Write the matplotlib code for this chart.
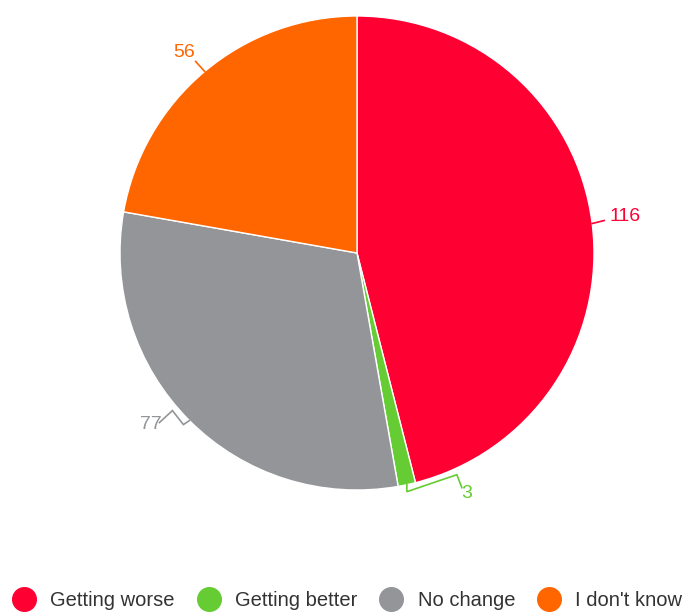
import numpy as np
import matplotlib.pyplot as plt
from matplotlib.lines import Line2D

# data
categories = ["Getting worse", "Getting better", "No change", "I don't know"]
counts = [116, 3, 77, 56]
colors = ["#FF0033", "#66CC33", "#939598", "#FF6600"]

plt.rcParams['font.family'] = ['Liberation Sans', 'DejaVu Sans']

W, H = 686, 612
fig = plt.figure(figsize=(W / 100, H / 100), dpi=100)
ax = fig.add_axes([0, 0, 1, 1])

cx, cy, r = 357, H - 253, 237
wedges, _ = ax.pie(counts, colors=colors, startangle=90, counterclock=False,
                   center=(cx, cy), radius=r, frame=True,
                   wedgeprops=dict(edgecolor='white', linewidth=1))
ax.set_xlim(0, W)
ax.set_ylim(0, H)
ax.set_aspect('equal')
ax.axis('off')

# leader lines: relative polyline offsets (px) from the wedge edge, and label offset
paths = {
    0: ([(0, 0), (12, 3)], (17, 7), 'left'),
    1: ([(0, 0), (0, -7), (50, 10), (55, -3)], (60, -9), 'center'),
    2: ([(0, 0), (-6, -4), (-17, 10), (-30, -2)], (-39, -4), 'center'),
    3: ([(0, 0), (-9, 10)], (-21, 19), 'center'),
}
for i, w in enumerate(wedges):
    ang = np.deg2rad((w.theta1 + w.theta2) / 2)
    ex, ey = cx + r * np.cos(ang), cy + r * np.sin(ang)
    pts, (tx, ty), ha = paths[i]
    xs = [ex + p[0] for p in pts]
    ys = [ey + p[1] for p in pts]
    ax.plot(xs, ys, color=colors[i], lw=1.2, solid_joinstyle='miter')
    ax.text(ex + tx, ey + ty, str(counts[i]), color=colors[i], fontsize=14,
            ha=ha, va='center')

handles = [Line2D([], [], marker='o', ls='', markersize=17, color=c) for c in colors]
fig.legend(handles, categories, loc='center', bbox_to_anchor=(0.5, 11 / H),
           ncol=4, frameon=False, fontsize=14.5, handletextpad=0.3,
           columnspacing=0.7, labelcolor='#333333')

fig.savefig('out.png', dpi=100)
